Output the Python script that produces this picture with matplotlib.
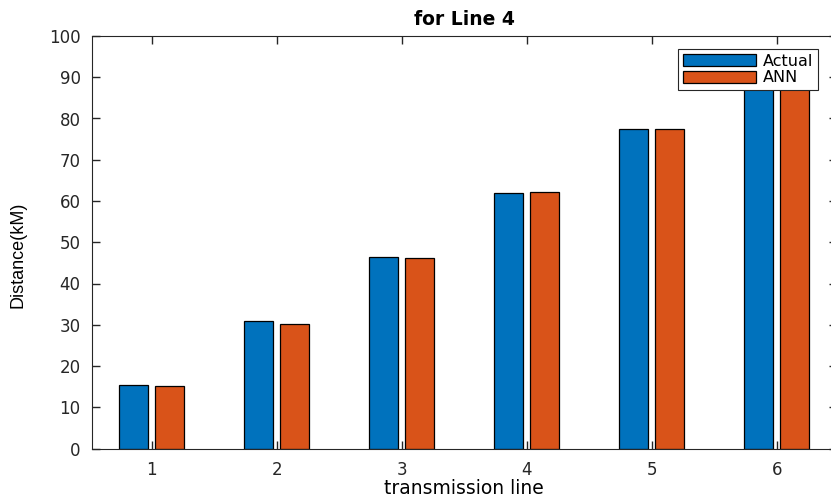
import matplotlib

matplotlib.use("Agg")
import matplotlib.pyplot as plt
import numpy as np

lines = [1, 2, 3, 4, 5, 6]
actual = [15.5, 31.0, 46.5, 62.0, 77.5, 93.0]
ann = [15.1, 30.1, 46.1, 62.2, 77.5, 93.0]
y_ticks = list(range(0, 101, 10))

BLUE = "#0072BD"
ORANGE = "#D95319"

plt.rcParams["font.family"] = ["DejaVu Sans"]

W, H = 831, 498
fig = plt.figure(figsize=(W / 100, H / 100), dpi=100)
left, right, top, bottom = 91.7, 836.7, 36.0, 448.5
ax = fig.add_axes([left / W, 1 - bottom / H, (right - left) / W, (bottom - top) / H])

x = np.array(lines, dtype=float)
bw = 0.23
ax.bar(x - 0.143, actual, bw, color=BLUE, edgecolor="black", linewidth=0.9, label="Actual")
ax.bar(x + 0.143, ann, bw, color=ORANGE, edgecolor="black", linewidth=0.9, label="ANN")

ax.set_xlim(0.52, 6.48)
ax.set_ylim(0, 100)
ax.set_xticks(lines)
ax.set_yticks(y_ticks)
ax.tick_params(direction="in", length=6, width=1, top=True, right=True,
               labelsize=12, colors="#262626")
ax.tick_params(axis="x", pad=9)
ax.tick_params(axis="y", pad=8)
for s in ax.spines.values():
    s.set_color("#262626")
    s.set_linewidth(0.8)

ax.set_title("for Line 4", fontsize=13.5, fontweight="bold", pad=8)
ax.set_xlabel("transmission line", fontsize=13.5, va="top")
ax.xaxis.set_label_coords(0.5, -0.073)
ax.set_ylabel("Distance(kM)", fontsize=13, family="Liberation Sans", va="center")
ax.yaxis.set_label_coords(-0.099, 0.47)

leg = ax.legend(loc="upper right", bbox_to_anchor=(818 / W, 1 - 49 / H),
                bbox_transform=fig.transFigure, borderaxespad=0, fontsize=11.5,
                handlelength=4.6, handleheight=0.75, fancybox=False, framealpha=1,
                edgecolor="#262626", borderpad=0.3, labelspacing=0.1,
                handletextpad=0.4)
leg.get_frame().set_linewidth(0.8)

fig.savefig("out.png", dpi=100)
